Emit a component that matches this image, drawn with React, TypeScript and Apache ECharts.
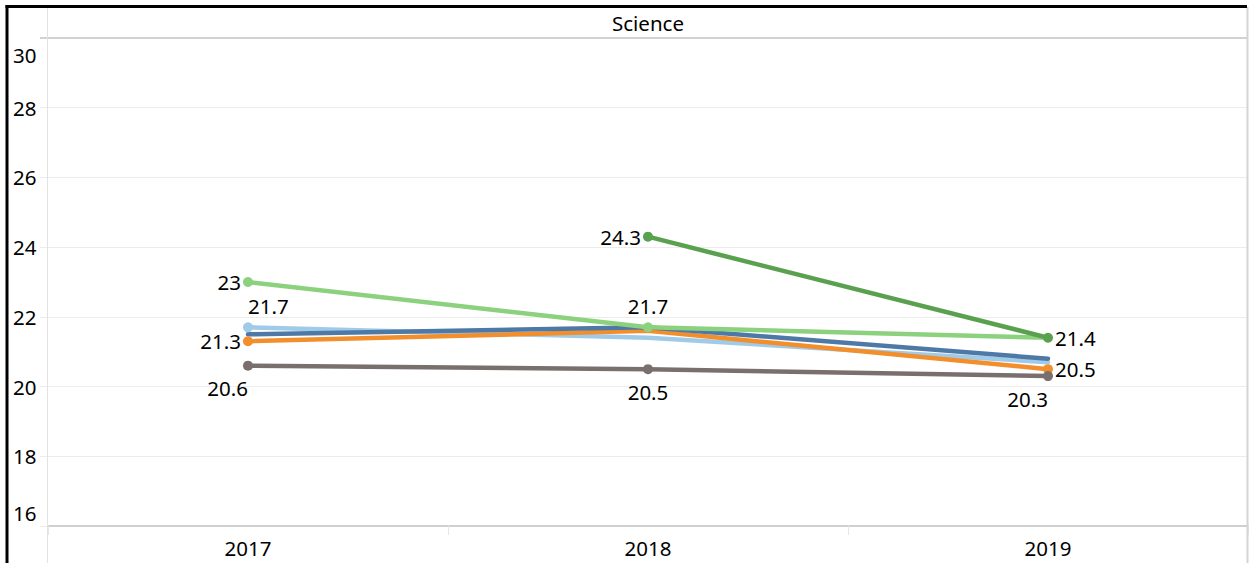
import React, { useEffect, useRef } from "react";
import * as echarts from "echarts";

const years = ["2017", "2018", "2019"];
const yTickMin = 16;
const yTickMax = 30;
const yTickStep = 2;

const lightBlueValues = [21.7, 21.4, 20.7];
const orangeValues = [21.3, 21.6, 20.5];
const darkBlueValues = [21.5, 21.7, 20.8];
const lightGreenValues = [23, 21.7, 21.4];
const grayValues = [20.6, 20.5, 20.3];
const darkGreenValues = [null, 24.3, 21.4];

const lightBlueLabels = ["topRight", null, null];
const orangeLabels = ["left", null, "right"];
const darkBlueLabels = [null, null, null];
const lightGreenLabels = ["left", "top", null];
const grayLabels = ["bottomLeft", "bottom", "bottomLeft"];
const darkGreenLabels = [null, "left", "right"];

const FONT = "'Noto Sans', 'Liberation Sans', sans-serif";
const FS = 20.5;

const labelStyles: Record<string, any> = {
  left: { position: "left", distance: 2 },
  right: { position: "right", distance: 2 },
  top: { position: "top", distance: 6 },
  topRight: { position: "top", distance: 6, align: "left" },
  bottom: { position: "bottom", distance: 7 },
  bottomLeft: { position: "bottom", distance: 7, align: "right" },
};

function buildSeries(name: string, color: string, values: (number | null)[], labels: (string | null)[]) {
  return {
    name,
    type: "line",
    symbol: "circle",
    symbolSize: 10,
    showAllSymbol: true,
    connectNulls: false,
    lineStyle: { width: 4.5, color, cap: "round", join: "round" },
    itemStyle: { color },
    emphasis: { disabled: true },
    data: values.map((v, i) => {
      const key = labels[i];
      if (v === null) return "-";
      if (!key) return { value: v, symbol: "none" };
      return {
        value: v,
        label: {
          show: true,
          fontSize: FS,
          fontFamily: FONT,
          color: "#000",
          ...labelStyles[key],
        },
      };
    }),
  };
}

export default function App() {
  const ref = useRef<HTMLDivElement>(null);
  useEffect(() => {
    if (!ref.current) return;
    const chart = echarts.init(ref.current, undefined, { renderer: "svg" });
    chart.setOption({
      animation: false,
      backgroundColor: "#fff",
      grid: { left: 48, right: 1, top: 38, bottom: 37, containLabel: false },
      xAxis: {
        type: "category",
        data: years,
        boundaryGap: true,
        axisLine: { show: true, lineStyle: { color: "#d0d0d0", width: 2 } },
        axisTick: { show: true, length: 9, lineStyle: { color: "#e6e6e6", width: 1 } },
        axisLabel: { fontSize: FS, fontFamily: FONT, color: "#000", margin: 11 },
        splitLine: { show: false },
      },
      yAxis: {
        type: "value",
        min: yTickMin,
        max: yTickMax,
        interval: yTickStep,
        axisLine: { show: false },
        axisTick: { show: true, length: 8, lineStyle: { color: "#ececec" } },
        splitLine: { show: true, lineStyle: { color: "#ececec", width: 1 } },
        axisLabel: {
          fontSize: FS,
          fontFamily: FONT,
          color: "#000",
          align: "left",
          margin: 35,
          formatter: (v: number) => {
            if (v === yTickMax) return `{hi|${v}}`;
            if (v === yTickMin) return `{lo|${v}}`;
            return `${v}`;
          },
          rich: {
            hi: { fontSize: FS, fontFamily: FONT, color: "#000", padding: [34, 0, 0, 0] },
            lo: { fontSize: FS, fontFamily: FONT, color: "#000", padding: [0, 0, 27, 0] },
          },
        },
      },
      series: [
        buildSeries("Light blue", "#a0cbe8", lightBlueValues, lightBlueLabels),
        buildSeries("Orange", "#f28e2b", orangeValues, orangeLabels),
        buildSeries("Dark blue", "#4e79a7", darkBlueValues, darkBlueLabels),
        buildSeries("Light green", "#8cd17d", lightGreenValues, lightGreenLabels),
        buildSeries("Gray", "#79706e", grayValues, grayLabels),
        buildSeries("Dark green", "#59a14f", darkGreenValues, darkGreenLabels),
      ],
      graphic: [
        { type: "line", shape: { x1: 40, y1: 38, x2: 1247, y2: 38 }, style: { stroke: "#d2d2d2", lineWidth: 2 }, z: 10 },
        { type: "line", shape: { x1: 47.5, y1: 7, x2: 47.5, y2: 563 }, style: { stroke: "#e2e2e2", lineWidth: 1 }, z: 10 },
        { type: "line", shape: { x1: 1247.5, y1: 7, x2: 1247.5, y2: 563 }, style: { stroke: "#d4d4d4", lineWidth: 2 }, z: 10 },
        { type: "line", shape: { x1: 5.5, y1: 6.5, x2: 1247, y2: 6.5 }, style: { stroke: "#000", lineWidth: 3 }, z: 11 },
        { type: "line", shape: { x1: 7, y1: 5, x2: 7, y2: 563 }, style: { stroke: "#000", lineWidth: 3 }, z: 11 },
        {
          type: "text",
          x: 648,
          y: 23,
          z: 11,
          style: {
            text: "Science",
            fontSize: FS,
            fontFamily: FONT,
            fill: "#000",
            textAlign: "center",
            textVerticalAlign: "middle",
          },
        },
      ],
    });
    return () => chart.dispose();
  }, []);
  return <div ref={ref} style={{ position: "absolute", left: 0, top: 0, width: 1249, height: 563 }} />;
}
